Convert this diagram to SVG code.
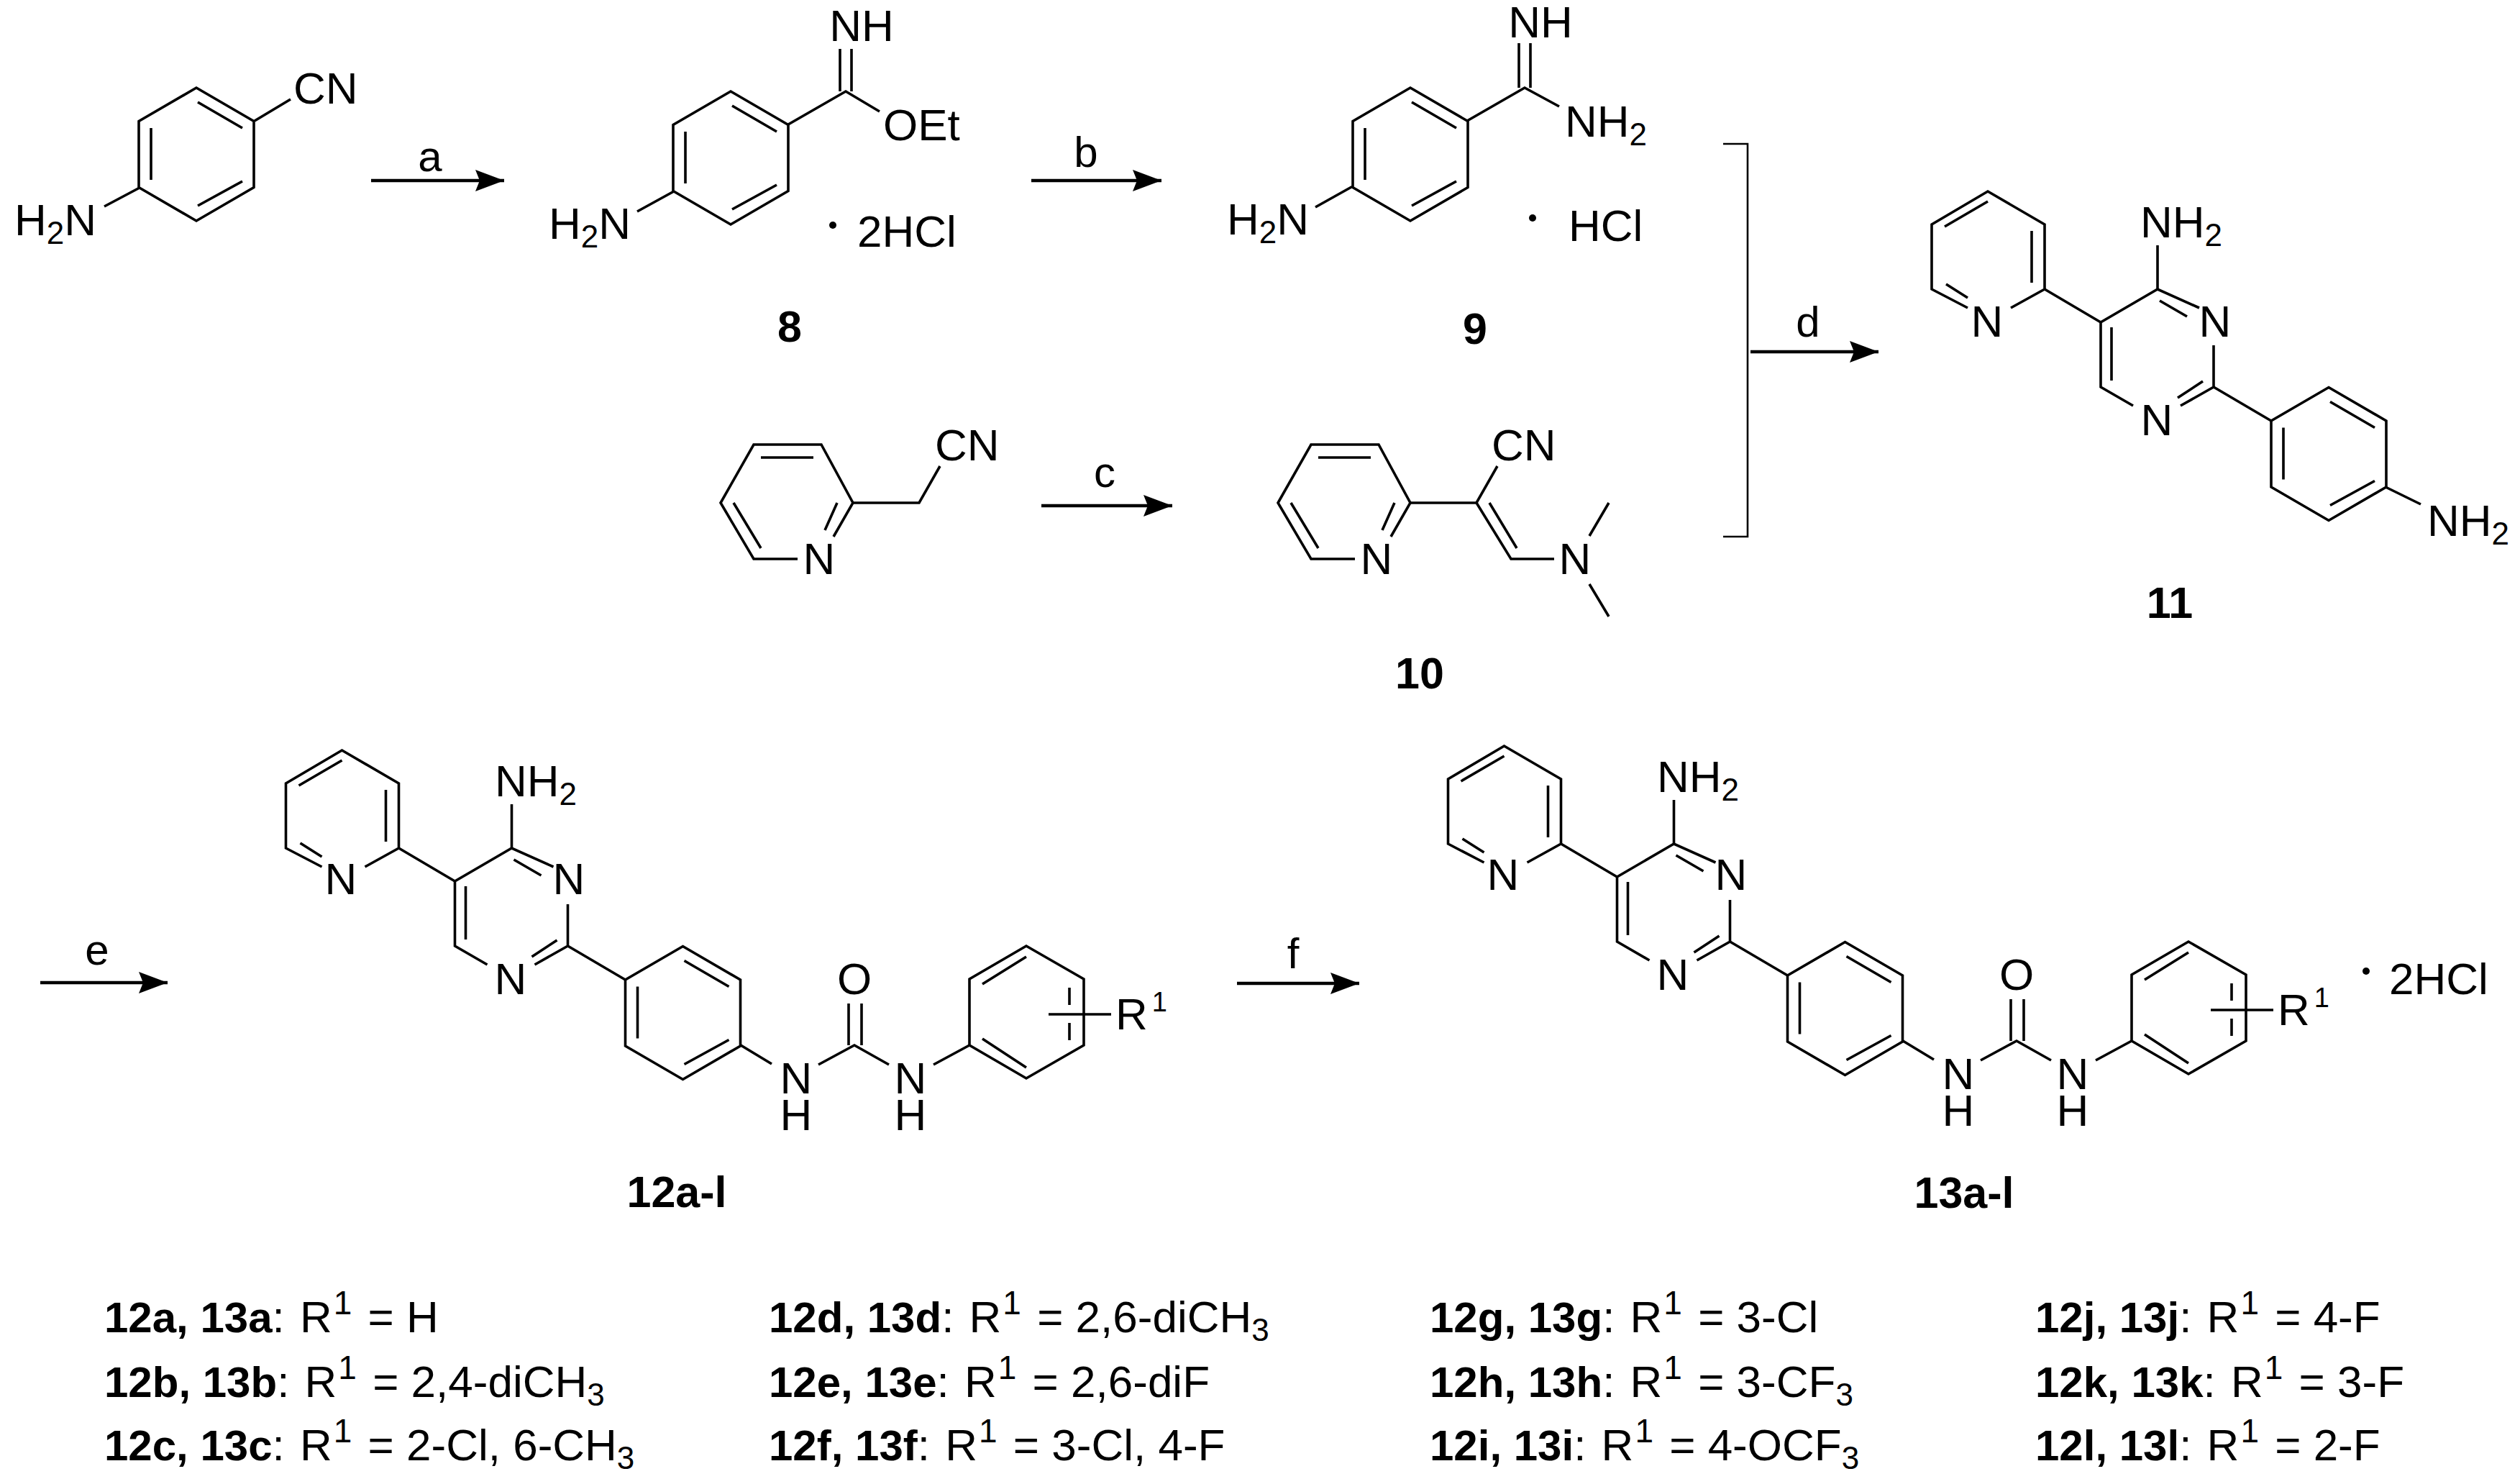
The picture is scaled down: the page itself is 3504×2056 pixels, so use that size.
<svg xmlns="http://www.w3.org/2000/svg" width="3504" height="2056" viewBox="0 0 3504 2056">
<style>
text{font-family:"Liberation Sans",Arial,sans-serif;font-size:62px;fill:#000}
.m{text-anchor:middle}
.s{font-size:44px}
.l{font-size:60px}
.bd{font-weight:bold;font-size:60px}
.lab{font-size:61px;font-weight:bold;text-anchor:middle}
.r{font-size:46px}
.q{font-size:38px}
.b{fill:none;stroke:#000;stroke-width:3.6;stroke-linejoin:miter;stroke-linecap:butt}
.th{stroke-width:2.6}
.arrow{fill:none;stroke:#000;stroke-width:4.5}
</style>
<defs>
<marker id="ah" markerUnits="userSpaceOnUse" markerWidth="42" markerHeight="30" refX="40" refY="15" orient="auto"><path d="M0,0L40,15L0,30L6,15Z" fill="#000"/></marker>
<g id="ring" class="b"><path d="M0,-92.5L80,-46L80,46L0,92.5L-80,46L-80,-46Z"/><path d="M2,-72.5L64,-36.5M-63,-36.5V35.5M64,37.5L2,71.5"/></g>
<g id="core" class="b">
<path d="M2736,428L2686,402V312L2764,266L2843,312V402L2796,428"/>
<path d="M2704,315L2764,280M2825,321V393M2706,395L2736,414"/>
<path d="M2843,402L2921,448M3000,402V341"/>
<path d="M2966,564L2921,538V448L3000,402L3058,428M3078,480V538L3032,564"/>
<path d="M3003,418L3041,440M3063,530L3028,553M2936,455V529"/>
<path d="M3078,538L3158,585"/>
<use href="#ring" x="3238" y="631"/>
</g>
<g id="urea" class="b">
<path d="M1030,1453L1073,1479M1138,1480L1188,1453L1236,1480M1298,1480L1348,1453"/>
<path d="M1180,1395V1453M1198,1395V1453"/>
<path d="M1348,1453V1361L1427,1315L1507,1361V1453L1427,1499Z"/>
<path d="M1366,1368L1427,1330M1487,1373V1397M1487,1422V1446M1366,1444L1427,1484"/>
<path d="M1458,1410H1545"/>
</g>
<g id="pyr" class="b">
<path d="M1109,777H1048L1002,699L1048,618H1142L1186,699L1159,746"/>
<path d="M1058,636H1131M1020,699L1058,762M1164,699L1147,737"/>
</g>
</defs>

<g id="connectors">
<path class="arrow" marker-end="url(#ah)" d="M516,251H701"/>
<path class="arrow" marker-end="url(#ah)" d="M1434,251H1615"/>
<path class="arrow" marker-end="url(#ah)" d="M1448,703H1630"/>
<path class="arrow" marker-end="url(#ah)" d="M2434,489H2612"/>
<path class="arrow" marker-end="url(#ah)" d="M56,1366H233"/>
<path class="arrow" marker-end="url(#ah)" d="M1720,1367H1890"/>
<path class="b th" d="M2396,200H2430V746H2396"/>
<text class="l m" x="598" y="238">a</text>
<text class="l m" x="1510" y="232">b</text>
<text class="l m" x="1536" y="677">c</text>
<text class="l m" x="2514" y="468">d</text>
<text class="l m" x="135" y="1341">e</text>
<text class="l m" x="1798" y="1346">f</text>
</g>

<g id="start-aniline">
<use href="#ring" x="273" y="214.5"/>
<path class="b" d="M354,168L404,138M194,261L145,287"/>
<text x="408" y="144">CN</text>
<text x="20" y="327">H<tspan class="s" dy="12">2</tspan><tspan dy="-12">N</tspan></text>
</g>

<g id="compound-8">
<use href="#ring" x="1016" y="219.5"/>
<path class="b" d="M1096,173L1176,127L1223,155M1168,68V127M1184,68V127M937,266L886,294"/>
<text class="m" x="1198" y="57">NH</text>
<text x="1228" y="195">OEt</text>
<text x="763" y="332">H<tspan class="s" dy="12">2</tspan><tspan dy="-12">N</tspan></text>
<circle cx="1158" cy="313" r="5"/>
<text x="1192" y="343">2HCl</text>
<text class="lab" x="1098" y="475">8</text>
</g>

<g id="compound-9">
<use href="#ring" x="1961" y="214.5"/>
<path class="b" d="M2040,168L2120,122L2168,148M2112,60V122M2128,60V122M1880,259.5L1829,288"/>
<text class="m" x="2142" y="52">NH</text>
<text x="2176" y="190">NH<tspan class="s" dy="12">2</tspan></text>
<text x="1706" y="326">H<tspan class="s" dy="12">2</tspan><tspan dy="-12">N</tspan></text>
<circle cx="2131" cy="303" r="5"/>
<text x="2181" y="335">HCl</text>
<text class="lab" x="2051" y="478">9</text>
</g>

<g id="pyridylacetonitrile">
<use href="#pyr"/>
<path class="b" d="M1186,699H1278L1307,648"/>
<text class="m" x="1139" y="798">N</text>
<text x="1300" y="640">CN</text>
</g>

<g id="compound-10">
<use href="#pyr" x="775"/>
<path class="b" d="M1961,699H2053L2082,648M2053,699L2101,777H2161M2071,699L2109,762M2210,745L2237,699M2210,812L2237,857"/>
<text class="m" x="1914" y="798">N</text>
<text x="2074" y="640">CN</text>
<text class="m" x="2190" y="798">N</text>
<text class="lab" x="1974" y="957">10</text>
</g>

<g id="compound-11">
<use href="#core"/>
<path class="b" d="M3317,677L3366,701"/>
<text class="m" x="2763" y="468">N</text>
<text x="2976" y="330">NH<tspan class="s" dy="12">2</tspan></text>
<text class="m" x="3080" y="468">N</text>
<text class="m" x="2999" y="605">N</text>
<text x="3375" y="745">NH<tspan class="s" dy="12">2</tspan></text>
<text class="lab" x="3017" y="859">11</text>
</g>

<g id="compound-12">
<use href="#core" x="-2288.5" y="777"/>
<use href="#urea"/>
<text class="m" x="474" y="1243">N</text>
<text x="688" y="1107">NH<tspan class="s" dy="12">2</tspan></text>
<text class="m" x="791" y="1243">N</text>
<text class="m" x="710" y="1382">N</text>
<text class="m" x="1188" y="1382">O</text>
<text class="m"><tspan x="1107" y="1520">N</tspan><tspan x="1107" y="1571">H</tspan></text>
<text class="m"><tspan x="1266" y="1520">N</tspan><tspan x="1266" y="1571">H</tspan></text>
<text x="1551" y="1431">R<tspan class="q" dx="6" dy="-25">1</tspan></text>
<text class="lab" x="941" y="1678">12a-l</text>
</g>

<g id="compound-13">
<use href="#core" x="-672.5" y="771"/>
<use href="#urea" x="1616" y="-6"/>
<text class="m" x="2090" y="1237">N</text>
<text x="2304" y="1101">NH<tspan class="s" dy="12">2</tspan></text>
<text class="m" x="2407" y="1237">N</text>
<text class="m" x="2326" y="1376">N</text>
<text class="m" x="2804" y="1376">O</text>
<text class="m"><tspan x="2723" y="1514">N</tspan><tspan x="2723" y="1565">H</tspan></text>
<text class="m"><tspan x="2882" y="1514">N</tspan><tspan x="2882" y="1565">H</tspan></text>
<text x="3167" y="1425">R<tspan class="q" dx="6" dy="-25">1</tspan></text>
<circle cx="3290" cy="1350" r="5"/>
<text x="3322" y="1382">2HCl</text>
<text class="lab" x="2731" y="1679">13a-l</text>
</g>

<g id="substituent-list">
<text x="145" y="1852"><tspan class="bd">12a, 13a</tspan>: <tspan dx="4">R</tspan><tspan class="r" dx="2" dy="-25">1</tspan><tspan dx="5" dy="25"> = H</tspan></text>
<text x="145" y="1942"><tspan class="bd">12b, 13b</tspan>: <tspan dx="4">R</tspan><tspan class="r" dx="2" dy="-25">1</tspan><tspan dx="5" dy="25"> = 2,4-diCH</tspan><tspan class="s" dy="12">3</tspan></text>
<text x="145" y="2030"><tspan class="bd">12c, 13c</tspan>: <tspan dx="4">R</tspan><tspan class="r" dx="2" dy="-25">1</tspan><tspan dx="5" dy="25"> = 2-Cl, 6-CH</tspan><tspan class="s" dy="12">3</tspan></text>
<text x="1069" y="1852"><tspan class="bd">12d, 13d</tspan>: <tspan dx="4">R</tspan><tspan class="r" dx="2" dy="-25">1</tspan><tspan dx="5" dy="25"> = 2,6-diCH</tspan><tspan class="s" dy="12">3</tspan></text>
<text x="1069" y="1942"><tspan class="bd">12e, 13e</tspan>: <tspan dx="4">R</tspan><tspan class="r" dx="2" dy="-25">1</tspan><tspan dx="5" dy="25"> = 2,6-diF</tspan></text>
<text x="1069" y="2030"><tspan class="bd">12f, 13f</tspan>: <tspan dx="4">R</tspan><tspan class="r" dx="2" dy="-25">1</tspan><tspan dx="5" dy="25"> = 3-Cl, 4-F</tspan></text>
<text x="1988" y="1852"><tspan class="bd">12g, 13g</tspan>: <tspan dx="4">R</tspan><tspan class="r" dx="2" dy="-25">1</tspan><tspan dx="5" dy="25"> = 3-Cl</tspan></text>
<text x="1988" y="1942"><tspan class="bd">12h, 13h</tspan>: <tspan dx="4">R</tspan><tspan class="r" dx="2" dy="-25">1</tspan><tspan dx="5" dy="25"> = 3-CF</tspan><tspan class="s" dy="12">3</tspan></text>
<text x="1988" y="2030"><tspan class="bd">12i, 13i</tspan>: <tspan dx="4">R</tspan><tspan class="r" dx="2" dy="-25">1</tspan><tspan dx="5" dy="25"> = 4-OCF</tspan><tspan class="s" dy="12">3</tspan></text>
<text x="2830" y="1852"><tspan class="bd">12j, 13j</tspan>: <tspan dx="4">R</tspan><tspan class="r" dx="2" dy="-25">1</tspan><tspan dx="5" dy="25"> = 4-F</tspan></text>
<text x="2830" y="1942"><tspan class="bd">12k, 13k</tspan>: <tspan dx="4">R</tspan><tspan class="r" dx="2" dy="-25">1</tspan><tspan dx="5" dy="25"> = 3-F</tspan></text>
<text x="2830" y="2030"><tspan class="bd">12l, 13l</tspan>: <tspan dx="4">R</tspan><tspan class="r" dx="2" dy="-25">1</tspan><tspan dx="5" dy="25"> = 2-F</tspan></text>
</g>
</svg>
